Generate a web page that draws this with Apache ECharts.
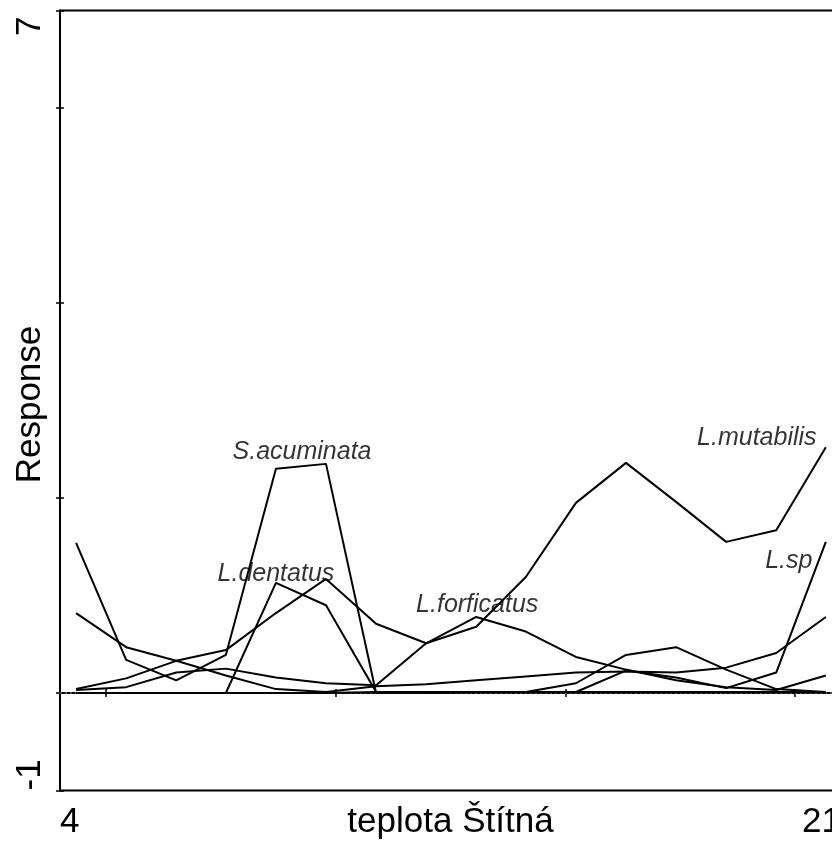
<!DOCTYPE html>
<html>
<head>
<meta charset="utf-8">
<script src="https://cdn.jsdelivr.net/npm/echarts@6/dist/echarts.min.js"></script>
<style>
html,body{margin:0;padding:0;background:#fff;}
#chart{width:832px;height:841px;}
</style>
</head>
<body>
<div id="chart"></div>
<script>
// ---- data ----
const temps = [4.35, 5.44, 6.53, 7.61, 8.70, 9.79, 10.88, 11.97, 13.06, 14.14, 15.23, 16.32, 17.41, 18.50, 19.59, 20.67];
const sAcuminata  = [1.54, 0.34, 0.13, 0.39, 2.30, 2.35, 0, 0, 0.01, 0.01, 0.10, 0.39, 0.47, 0.24, 0.04, 0.01];
const lDentatus   = [0, 0, 0, 0, 1.13, 0.90, 0.01, 0.01, 0.01, 0.01, 0.01, 0.01, 0.01, 0.01, 0.01, 0.01];
const lForficatus = [0.03, 0.06, 0.21, 0.25, 0.16, 0.10, 0.08, 0.51, 0.78, 0.63, 0.37, 0.24, 0.13, 0.06, 0.03, 0.18];
const lMutabilis  = [0.04, 0.15, 0.33, 0.44, 0.82, 1.17, 0.71, 0.51, 0.68, 1.19, 1.95, 2.36, 1.96, 1.55, 1.67, 2.52];
const lSp         = [0, 0, 0, 0, 0, 0, 0.01, 0.01, 0.01, 0.01, 0.01, 0.23, 0.16, 0.05, 0.21, 1.55];
const otherSpecies = [0.82, 0.47, 0.33, 0.18, 0.04, 0.01, 0.07, 0.09, 0.13, 0.17, 0.21, 0.22, 0.21, 0.26, 0.41, 0.78];
const speciesNames = ['S.acuminata', 'L.dentatus', 'L.forficatus', 'L.mutabilis', 'L.sp'];
const xTickValues = [4, 5, 10, 15, 20, 21];
const xLabelValues = [4, 21];
const yTickValues = [-1, 0, 2, 4, 6, 7];
const yLabelValues = [-1, 7];
const zeroLine = 0;
const xTitle = 'teplota Štítná';
const yTitle = 'Response';

// ---- chart ----
const FONT = '"Liberation Sans", Arial, sans-serif';
const labeled = [sAcuminata, lDentatus, lForficatus, lMutabilis, lSp];
const allSeries = [sAcuminata, lDentatus, lForficatus, lMutabilis, lSp, otherSpecies];
// pixel offsets of each name from the species' maximum point
const labelOffsets = [[-24, -12], [0, -9], [1, -12], [-69, -9], [-37, 19]];

const lineSeries = allSeries.map((vals, i) => ({
  type: 'line',
  xAxisIndex: 0, yAxisIndex: 0,
  symbol: 'none',
  silent: true,
  lineStyle: { color: '#000', width: 2 },
  data: vals.map((v, k) => [temps[k], v]),
  z: 3,
  markLine: i === 0 ? {
    silent: true, symbol: 'none', label: { show: false },
    lineStyle: { color: '#666', width: 1.5, type: [2, 3] },
    data: [{ yAxis: zeroLine }], z: 1
  } : undefined
}));

const labelData = labeled.map((vals, i) => {
  let m = 0;
  vals.forEach((v, k) => { if (v > vals[m]) m = k; });
  return {
    value: [temps[m], vals[m]],
    label: {
      show: true, position: 'inside', formatter: speciesNames[i],
      offset: labelOffsets[i]
    }
  };
});

const labelSeries = {
  type: 'scatter', xAxisIndex: 0, yAxisIndex: 0,
  symbolSize: 1, silent: true,
  itemStyle: { color: 'transparent' },
  label: { color: '#000', fontFamily: FONT, fontStyle: 'italic', fontSize: 25 },
  data: labelData, z: 5
};

const chart = echarts.init(document.getElementById('chart'), null, { renderer: 'canvas' });
chart.setOption({
  animation: false,
  backgroundColor: '#fff',
  grid: {
    left: 60, right: -9, top: 10.5, bottom: 50.5,
    show: true, borderColor: '#000', borderWidth: 2,
    containLabel: false, outerBoundsMode: 'none'
  },
  xAxis: [{
    type: 'value', min: 4, max: 21, position: 'bottom',
    axisLine: { show: true, lineStyle: { color: '#000', width: 2 } },
    axisTick: { show: true, customValues: xTickValues, length: 4, lineStyle: { color: '#000', width: 1.5 } },
    axisLabel: { customValues: xLabelValues, color: '#000', fontSize: 35, fontFamily: FONT, margin: 14,
      alignMinLabel: 'left', alignMaxLabel: 'right' },
    splitLine: { show: false },
    name: xTitle, nameLocation: 'middle', nameGap: 14, nameMoveOverlap: false,
    nameTextStyle: { color: '#000', fontSize: 35, fontFamily: FONT, verticalAlign: 'top' }
  }, {
    type: 'value', min: 4, max: 21, position: 'bottom',
    axisLine: { show: false },
    axisTick: { show: true, inside: true, customValues: xTickValues, length: 4, lineStyle: { color: '#000', width: 1.5 } },
    axisLabel: { show: false }, splitLine: { show: false }
  }],
  yAxis: [{
    type: 'value', min: -1, max: 7, position: 'left',
    axisLine: { show: true, lineStyle: { color: '#000', width: 2 } },
    axisTick: { show: true, customValues: yTickValues, length: 4, lineStyle: { color: '#000', width: 1.5 } },
    axisLabel: { customValues: yLabelValues, rotate: 90, color: '#000', fontSize: 35, fontFamily: FONT, margin: 12,
      alignMinLabel: 'left', alignMaxLabel: 'right',
      formatter: (v) => v === 7 ? '{top|' + v + '}' : String(v),
      rich: { top: { fontSize: 35, fontFamily: FONT, color: '#000', padding: [0, 6, 0, 0] } } },
    splitLine: { show: false },
    name: yTitle, nameLocation: 'middle', nameGap: 12, nameRotate: 90, nameMoveOverlap: false,
    nameTextStyle: { color: '#000', fontSize: 35, fontFamily: FONT, verticalAlign: 'bottom', padding: [0, 8, 0, 0] }
  }, {
    type: 'value', min: -1, max: 7, position: 'left',
    axisLine: { show: false },
    axisTick: { show: true, inside: true, customValues: yTickValues, length: 4, lineStyle: { color: '#000', width: 1.5 } },
    axisLabel: { show: false }, splitLine: { show: false }
  }],
  series: lineSeries.concat([labelSeries])
});
</script>
</body>
</html>
